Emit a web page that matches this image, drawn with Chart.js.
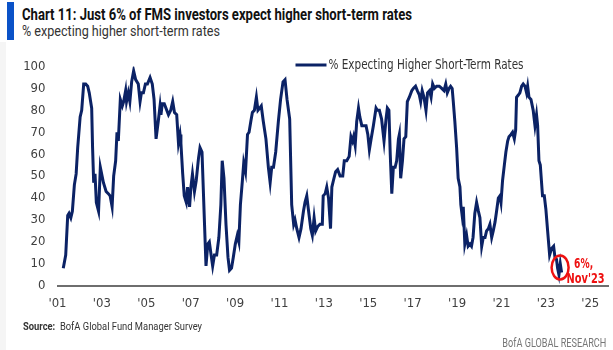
<!DOCTYPE html>
<html>
<head>
<meta charset="utf-8">
<script src="https://cdn.jsdelivr.net/npm/chart.js@4.4.1/dist/chart.umd.min.js"></script>
<style>
html, body { margin: 0; padding: 0; background: #fff; }
body { width: 613px; height: 350px; position: relative; overflow: hidden; font-family: Roboto, sans-serif; }
#bar { position: absolute; left: 7px; top: 2px; width: 7px; height: 38px; background: #0a52c8; }
#edge { position: absolute; left: 0; top: 42px; width: 6px; height: 308px; background: #f5f5f5; }
#title { position: absolute; left: 22px; top: 5px; font-weight: bold; font-size: 16px; color: #111; white-space: nowrap; }
#subtitle { position: absolute; left: 22px; top: 22px; font-size: 15px; color: #333; white-space: nowrap; }
#source { position: absolute; left: 23px; top: 319px; font-size: 11.5px; color: #333; white-space: nowrap; }
#brand { position: absolute; right: 7px; top: 336px; font-size: 12px; color: #777; white-space: nowrap; }
canvas { position: absolute; left: 0; top: 0; }
</style>
</head>
<body>
<div id="edge"></div>
<div id="bar"></div>
<div id="title">Chart 11: Just 6% of FMS investors expect higher short-term rates</div>
<div id="subtitle">% expecting higher short-term rates</div>
<canvas id="chart" width="613" height="350"></canvas>
<div id="source"><b>Source:</b>&nbsp; BofA Global Fund Manager Survey</div>
<div id="brand">BofA GLOBAL RESEARCH</div>
<script>
// Survey dates (decimal years) and % expecting higher short-term rates
const years = [
    2001.26, 2001.37, 2001.46, 2001.52, 2001.60, 2001.67, 2001.76, 2001.84, 2001.91,
    2002.02, 2002.09, 2002.18, 2002.27, 2002.36, 2002.43, 2002.54, 2002.58, 2002.63, 2002.69, 2002.75, 2002.85, 2002.93,
    2003.07, 2003.19, 2003.29, 2003.37, 2003.46, 2003.53, 2003.62, 2003.68, 2003.74, 2003.83, 2003.92, 2003.98,
    2004.07, 2004.11, 2004.19, 2004.26, 2004.34, 2004.43, 2004.52, 2004.64, 2004.72, 2004.78, 2004.87, 2004.96,
    2005.05, 2005.17, 2005.27, 2005.35, 2005.44, 2005.54, 2005.62, 2005.66, 2005.72, 2005.81,
    2006.00, 2006.10, 2006.19, 2006.27, 2006.37, 2006.45, 2006.52, 2006.56, 2006.64, 2006.71, 2006.80, 2006.86, 2006.95,
    2007.01, 2007.08, 2007.17, 2007.25, 2007.35, 2007.42, 2007.51, 2007.62, 2007.69, 2007.77, 2007.84, 2007.92, 2007.99,
    2008.07, 2008.17, 2008.27, 2008.36, 2008.42, 2008.50, 2008.59, 2008.68, 2008.75, 2008.84, 2008.92,
    2009.01, 2009.10, 2009.17, 2009.24, 2009.33, 2009.39, 2009.47, 2009.56, 2009.63, 2009.71, 2009.78, 2009.87, 2009.96,
    2010.03, 2010.11, 2010.18, 2010.27, 2010.39, 2010.50, 2010.58, 2010.65, 2010.73, 2010.83, 2010.95,
    2011.05, 2011.16, 2011.25, 2011.34, 2011.46, 2011.55, 2011.64, 2011.70, 2011.78, 2011.88, 2011.97,
    2012.08, 2012.15, 2012.23, 2012.30, 2012.41, 2012.48, 2012.56, 2012.63, 2012.72, 2012.82, 2012.93, 2012.97,
    2013.06, 2013.13, 2013.21, 2013.30, 2013.36, 2013.43, 2013.53, 2013.62, 2013.73, 2013.85, 2013.92,
    2014.03, 2014.14, 2014.22, 2014.29, 2014.34, 2014.41, 2014.48, 2014.56, 2014.62, 2014.71, 2014.81, 2014.90, 2014.98,
    2015.05, 2015.13, 2015.23, 2015.35, 2015.41, 2015.50, 2015.60, 2015.71, 2015.80, 2015.86, 2015.93, 2015.99,
    2016.06, 2016.13, 2016.21, 2016.28, 2016.36, 2016.40, 2016.46, 2016.54, 2016.61, 2016.69, 2016.76, 2016.85, 2016.96,
    2017.03, 2017.13, 2017.21, 2017.30, 2017.36, 2017.43, 2017.51, 2017.60, 2017.67, 2017.76, 2017.83, 2017.90, 2017.98,
    2018.08, 2018.20, 2018.31, 2018.41, 2018.49, 2018.56, 2018.64, 2018.71, 2018.78, 2018.83, 2018.90, 2018.98,
    2019.05, 2019.13, 2019.17, 2019.23, 2019.28, 2019.35, 2019.43, 2019.50, 2019.58, 2019.65, 2019.72, 2019.80, 2019.88, 2019.96,
    2020.03, 2020.11, 2020.18, 2020.26, 2020.33, 2020.41, 2020.48, 2020.56, 2020.63, 2020.71, 2020.78, 2020.86, 2020.93, 2020.98,
    2021.05, 2021.13, 2021.20, 2021.28, 2021.34, 2021.43, 2021.50, 2021.58, 2021.64, 2021.68, 2021.76, 2021.83, 2021.91, 2021.98,
    2022.06, 2022.13, 2022.18, 2022.24, 2022.33, 2022.43, 2022.51, 2022.58, 2022.63, 2022.69, 2022.75, 2022.85, 2022.93,
    2023.00, 2023.08, 2023.17, 2023.26, 2023.35, 2023.41, 2023.48, 2023.53, 2023.59, 2023.65, 2023.71
];
const pctHigher = [
    8, 14, 32, 33, 31, 34, 46, 51, 63,
    77, 80, 92, 92, 91, 88, 81, 63, 47, 51, 38, 34, 54,
    47, 43, 42, 41, 36, 50, 57, 70, 66, 85, 82, 84,
    89, 84, 88, 84, 93, 98, 94, 92, 84, 88, 88, 92,
    92, 95, 92, 85, 67, 75, 82, 78, 83, 83,
    78, 80, 84, 79, 78, 65, 69, 65, 51, 41, 38, 45, 36,
    45, 51, 43, 48, 58, 63, 61, 29, 9, 19, 20, 14, 9,
    14, 14, 22, 37, 57, 49, 28, 13, 7, 8, 13,
    19, 23, 20, 37, 48, 56, 52, 69, 70, 75, 79, 80, 86,
    80, 81, 82, 75, 67, 54, 47, 54, 54, 61, 75,
    85, 93, 94, 85, 76, 37, 28, 30, 26, 22, 26,
    34, 38, 41, 35, 26, 23, 31, 25, 27, 28, 28, 41,
    42, 45, 40, 26, 45, 48, 52, 53, 50, 50, 57,
    57, 59, 68, 66, 68, 64, 75, 81, 77, 73, 73, 73, 69,
    62, 67, 73, 81, 80, 80, 76, 66, 76, 81, 80, 60,
    42, 54, 54, 57, 67, 69, 49, 57, 67, 68, 84, 86, 89,
    90, 91, 89, 87, 84, 89, 86, 80, 88, 89, 86, 92, 90,
    91, 91, 90, 89, 92, 88, 90, 91, 90, 84, 75, 63,
    49, 45, 37, 32, 36, 19, 23, 18, 19, 18, 22, 33, 38, 34,
    31, 18, 22, 22, 25, 26, 28, 22, 25, 29, 34, 40, 41, 38,
    48, 55, 61, 66, 68, 69, 70, 67, 71, 86, 87, 88, 91, 92,
    91, 88, 91, 86, 85, 80, 73, 78, 73, 57, 55, 41, 41,
    35, 25, 14, 17, 18, 13, 12, 8, 5, 10, 6
];

// Axis ticks
const tickYears = [2001, 2003, 2005, 2007, 2009, 2011, 2013, 2015, 2017, 2019, 2021, 2023, 2025];
const tickLabels = ["'01", "'03", "'05", "'07", "'09", "'11", "'13", "'15", "'17", "'19", "'21", "'23", "'25"];
const seriesName = '% Expecting Higher Short-Term Rates';
const noteLines = ['6%,', "Nov'23"];

const navy = '#0b2265';
const red = '#ee1111';
const font = '"DejaVu Sans Condensed", sans-serif';

// squeeze the html texts to the widths of the original
function fitWidth(id, target, origin) {
    const el = document.getElementById(id);
    const w = el.getBoundingClientRect().width;
    el.style.transformOrigin = origin;
    el.style.transform = `scaleX(${target / w})`;
}
fitWidth('title', 390, 'left center');
fitWidth('subtitle', 198, 'left center');
fitWidth('source', 179, 'left center');
fitWidth('brand', 104, 'right center');

// canvas text squeezed to a given width
function squeezeText(ctx, text, x, y, width) {
    const sx = Math.min(1, width / ctx.measureText(text).width);
    ctx.save();
    ctx.translate(x, y);
    ctx.scale(sx, 1);
    ctx.fillText(text, 0, 0);
    ctx.restore();
}

// legend box + red circle on the latest reading
const overlayPlugin = {
    id: 'overlay',
    afterDatasetsDraw(chart) {
        const ctx = chart.ctx;
        const area = chart.chartArea;
        const pts = chart.getDatasetMeta(0).data;
        const last = pts[pts.length - 1];
        ctx.save();

        const lx = area.left + 238, ly = 65;
        ctx.strokeStyle = navy;
        ctx.lineWidth = 3;
        ctx.beginPath();
        ctx.moveTo(lx, ly);
        ctx.lineTo(lx + 31, ly);
        ctx.stroke();

        ctx.font = '14px ' + font;
        ctx.fillStyle = '#333';
        ctx.textBaseline = 'middle';
        squeezeText(ctx, chart.data.datasets[0].label, lx + 33, ly, 195);

        ctx.strokeStyle = red;
        ctx.lineWidth = 2.5;
        ctx.beginPath();
        ctx.ellipse(last.x - 1.5, last.y - 5, 8.5, 12, 0, 0, 2 * Math.PI);
        ctx.stroke();
        ctx.fillStyle = red;
        ctx.font = 'bold 14px ' + font;
        ctx.textAlign = 'center';
        squeezeText(ctx, noteLines[0], last.x + 22, last.y - 8, 19);
        squeezeText(ctx, noteLines[1], last.x + 24, last.y + 6.5, 38);
        ctx.restore();
    }
};

new Chart(document.getElementById('chart').getContext('2d'), {
    type: 'line',
    data: {
        datasets: [{
            label: seriesName,
            data: years.map((x, i) => ({ x: x, y: pctHigher[i] })),
            borderColor: navy,
            borderWidth: 3,
            pointRadius: 0,
            tension: 0,
            fill: false
        }]
    },
    options: {
        responsive: false,
        animation: false,
        devicePixelRatio: 1,
        layout: { padding: { left: 0, right: 5, top: 66.5, bottom: 34.3 } },
        plugins: {
            legend: { display: false },
            tooltip: { enabled: false }
        },
        scales: {
            x: {
                type: 'linear',
                min: 2001,
                max: 2025.8,
                afterFit: s => { s.height = 30; },
                afterBuildTicks: s => { s.ticks = tickYears.map(v => ({ value: v })); },
                grid: { display: false, drawTicks: false },
                border: { display: true, color: '#6e6e6e', width: 2 },
                ticks: {
                    padding: 10,
                    color: '#404040',
                    font: { family: font, size: 13 },
                    maxRotation: 0,
                    autoSkip: false,
                    callback: v => tickLabels[tickYears.indexOf(v)]
                }
            },
            y: {
                min: 0,
                max: 100,
                afterFit: s => { s.width = 57.5; },
                grid: { display: false, drawTicks: false },
                border: { display: false },
                ticks: {
                    stepSize: 10,
                    padding: 12,
                    color: '#404040',
                    font: { family: font, size: 13 }
                }
            }
        }
    },
    plugins: [overlayPlugin]
});
</script>
</body>
</html>
